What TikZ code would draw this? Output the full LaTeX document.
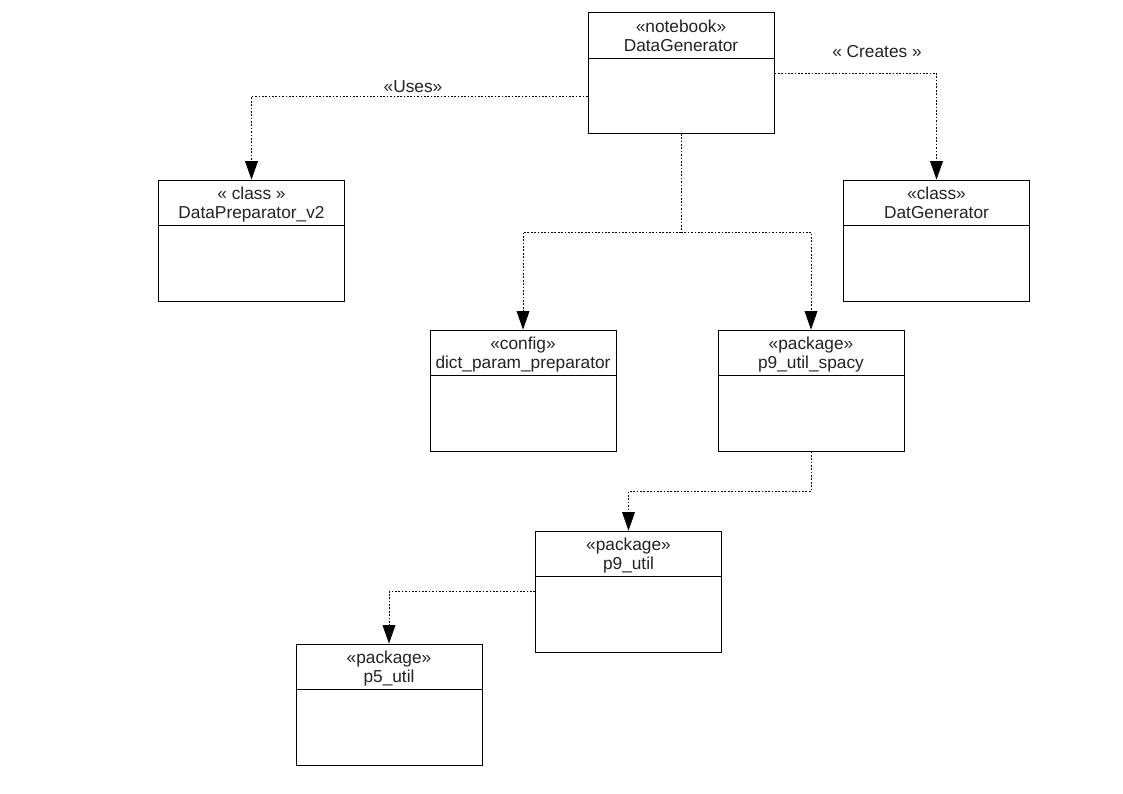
\documentclass[tikz,border=0pt]{standalone}
\usepackage{fontspec}
\setmainfont{Liberation Sans}
\usepackage{tikz}
\usetikzlibrary{arrows.meta,positioning}
\definecolor{inkgray}{HTML}{222222}
\tikzset{
  umlbox/.style={draw, line width=0.6pt, minimum width=4.65cm,
    minimum height=3.025cm, inner sep=0pt},
  umlhead/.style={anchor=north, align=center, inner xsep=2pt, inner ysep=5.3pt,
    text=inkgray, font=\fontsize{12.3}{13.5}\selectfont},
  dep/.style={line width=0.5pt, dash pattern=on 1.2pt off 1.2pt,
    -{Triangle[length=0.46cm,width=0.32cm]}},
  deplabel/.style={text=inkgray, font=\fontsize{12.3}{13.5}\selectfont}
}
% name, position, stereotype, title
\newcommand{\umlclass}[4]{%
  \node[umlbox] (#1) at (#2) {};
  \node[umlhead] (#1-head) at (#1.north) {#3\\#4};
  \draw[line width=0.6pt] ([yshift=-1.15cm]#1.north west) -- ([yshift=-1.15cm]#1.north east);
}

\begin{document}
\begin{tikzpicture}[x=0.025cm, y=-0.025cm]
\useasboundingbox (0,0) rectangle (1123,794);

\umlclass{gen}{681,73}{«notebook»}{DataGenerator}
\umlclass{prep}{251.5,240.5}{« class »}{DataPreparator\_v2}
\umlclass{datgen}{936.5,240.5}{«class»}{DatGenerator}
\umlclass{dict}{523,390.5}{«config»}{dict\_param\_preparator}
\umlclass{spacy}{811,390.5}{«package»}{p9\_util\_spacy}
\umlclass{p9util}{628.5,591.5}{«package»}{p9\_util}
\umlclass{p5util}{389,704.5}{«package»}{p5\_util}

% dependencies
\draw[dep] ([yshift=-0.575cm]gen.west) -| (prep.north);
\draw[dep] (gen.east) -| (datgen.north);
\coordinate (split) at (681,232);
\draw[line width=0.5pt, dash pattern=on 1.2pt off 1.2pt] (gen.south) -- (split);
\draw[dep] (split) -| (dict.north);
\draw[dep] (split) -| (spacy.north);
\draw[dep] (spacy.south) -- ++(0,40) -| (p9util.north);
\draw[dep] (p9util.west) -| (p5util.north);

\node[deplabel] (uses) at (413,87) {«Uses»};
\node[deplabel] (creates) at (877,52) {« Creates »};
\end{tikzpicture}
\end{document}
